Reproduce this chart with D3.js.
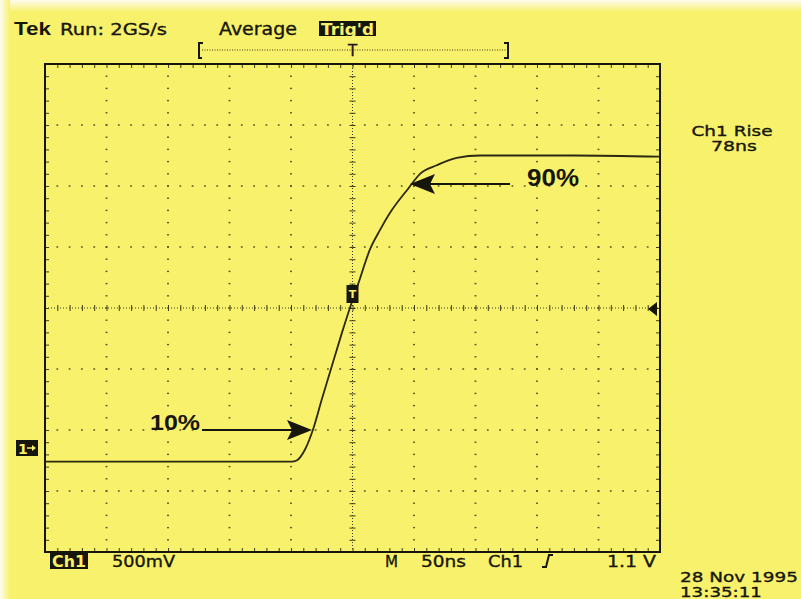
<!DOCTYPE html>
<html><head><meta charset="utf-8">
<script src="https://cdn.jsdelivr.net/npm/d3@7"></script>
<style>body{margin:0;background:#f8f16b;}svg{display:block;}</style>
</head><body>
<script>
// ---- data (time in ns, voltage in V) ----
const timeNs = [-250, -120, -49.4, -45.4, -38.6, -31.9, -25.0, -16.9, -8.8, 0.2, 4.7, 14.2, 22.4, 30.5, 45.4, 54.9, 68.5, 84.7, 103.7, 180, 250];
const voltsV = [-0.11, -0.11, -0.11, -0.10, -0.01, 0.16, 0.40, 0.67, 0.94, 1.22, 1.35, 1.63, 1.79, 1.93, 2.13, 2.25, 2.32, 2.38, 2.40, 2.40, 2.39];
const timeDomain = [-250, 250];      // 50 ns/div, 10 divisions
const voltDomain = [-0.85, 3.15];    // 500 mV/div, 8 divisions
const nsPerDiv = 50, vPerDiv = 0.5, minorPerDiv = 5;
const headerTexts = {tek: "Tek", run: "Run: 2GS/s", avg: "Average", trig: "Trig'd"};
const footerTexts = ["500mV", "M", "50ns", "Ch1", "1.1 V"];
const measureTexts = ["Ch1 Rise", "78ns"];
const dateTexts = ["28 Nov 1995", "13:35:11"];
const arrowLabels = ["10%", "90%"];

const W = 801, H = 599;
const ink = "#17160c", yel = "#f8f16b";
const svg = d3.select("body").append("svg").attr("width", W).attr("height", H);
svg.append("rect").attr("width", W).attr("height", H).attr("fill", yel);
// pale scan edges
const defs = svg.append("defs");
const gT = defs.append("linearGradient").attr("id","gt").attr("x1",0).attr("y1",0).attr("x2",0).attr("y2",1);
gT.append("stop").attr("offset",0).attr("stop-color","#fdfcf0");
gT.append("stop").attr("offset",1).attr("stop-color",yel);
const gL = defs.append("linearGradient").attr("id","gl").attr("x1",0).attr("y1",0).attr("x2",1).attr("y2",0);
gL.append("stop").attr("offset",0).attr("stop-color","#fdfcf0");
gL.append("stop").attr("offset",1).attr("stop-color",yel);
svg.append("rect").attr("x",0).attr("y",0).attr("width",W).attr("height",12).attr("fill","url(#gt)");
svg.append("rect").attr("x",0).attr("y",0).attr("width",10).attr("height",H).attr("fill","url(#gl)");

const x = d3.scaleLinear().domain(timeDomain).range([45, 660]);
const y = d3.scaleLinear().domain(voltDomain).range([552, 64]);

const xMinor = d3.range(timeDomain[0], timeDomain[1] + 0.001, nsPerDiv / minorPerDiv);
const xMajor = d3.range(timeDomain[0], timeDomain[1] + 0.001, nsPerDiv);
const nY = Math.round((voltDomain[1] - voltDomain[0]) / (vPerDiv / minorPerDiv));
const yMinor = d3.range(0, nY + 1).map(i => voltDomain[0] + i * vPerDiv / minorPerDiv);
const yMajor = d3.range(0, 9).map(i => voltDomain[0] + i * vPerDiv);
const tCenter = (timeDomain[0] + timeDomain[1]) / 2, vCenter = (voltDomain[0] + voltDomain[1]) / 2;

const grid = svg.append("g");
// dotted division lines
xMajor.slice(1, -1).filter(t => Math.abs(t - tCenter) > 1e-6).forEach(t => {
  grid.selectAll(null).data(yMinor.slice(1, -1)).enter().append("rect")
    .attr("x", x(t) - 0.9).attr("y", d => y(d) - 0.7).attr("width", 1.8).attr("height", 1.4).attr("fill", "#4f4d26");
});
yMajor.slice(1, -1).filter(v => Math.abs(v - vCenter) > 1e-6).forEach(v => {
  grid.selectAll(null).data(xMinor.slice(1, -1)).enter().append("rect")
    .attr("x", d => x(d) - 0.9).attr("y", y(v) - 0.7).attr("width", 1.8).attr("height", 1.4).attr("fill", "#4f4d26");
});
// centre cross
grid.append("line").attr("x1", x(tCenter)).attr("x2", x(tCenter)).attr("y1", y(voltDomain[0])).attr("y2", y(voltDomain[1]))
  .attr("stroke", "#3e3c1c").attr("stroke-width", 1).attr("stroke-dasharray", "1,2");
grid.append("line").attr("y1", y(vCenter)).attr("y2", y(vCenter)).attr("x1", x(timeDomain[0])).attr("x2", x(timeDomain[1]))
  .attr("stroke", "#3e3c1c").attr("stroke-width", 1).attr("stroke-dasharray", "1,2");
const cx = svg.append("g").attr("transform", `translate(${x(tCenter)},0)`)
  .call(d3.axisRight(y).tickValues(yMinor.slice(1,-1)).tickSize(3).tickFormat(""));
const cx2 = svg.append("g").attr("transform", `translate(${x(tCenter)},0)`)
  .call(d3.axisLeft(y).tickValues(yMinor.slice(1,-1)).tickSize(3).tickFormat(""));
const cy = svg.append("g").attr("transform", `translate(0,${y(vCenter)})`)
  .call(d3.axisBottom(x).tickValues(xMinor.slice(1,-1)).tickSize(3).tickFormat(""));
const cy2 = svg.append("g").attr("transform", `translate(0,${y(vCenter)})`)
  .call(d3.axisTop(x).tickValues(xMinor.slice(1,-1)).tickSize(3).tickFormat(""));
[cx, cx2, cy, cy2].forEach(g => { g.select(".domain").remove(); g.selectAll(".tick line").attr("stroke", "#3e3c1c"); });

// border ticks (inward)
const bt = [
  svg.append("g").attr("transform", `translate(0,${y(voltDomain[1])})`).call(d3.axisBottom(x).tickValues(xMinor).tickSize(4).tickFormat("")),
  svg.append("g").attr("transform", `translate(0,${y(voltDomain[0])})`).call(d3.axisTop(x).tickValues(xMinor).tickSize(4).tickFormat("")),
  svg.append("g").attr("transform", `translate(${x(timeDomain[0])},0)`).call(d3.axisRight(y).tickValues(yMinor).tickSize(4).tickFormat("")),
  svg.append("g").attr("transform", `translate(${x(timeDomain[1])},0)`).call(d3.axisLeft(y).tickValues(yMinor).tickSize(4).tickFormat(""))
];
bt.forEach(g => { g.select(".domain").remove(); g.selectAll(".tick line").attr("stroke", "#3e3c1c"); });
svg.append("rect").attr("x", x(timeDomain[0])).attr("y", y(voltDomain[1]))
  .attr("width", x(timeDomain[1]) - x(timeDomain[0])).attr("height", y(voltDomain[0]) - y(voltDomain[1]))
  .attr("fill", "none").attr("stroke", ink).attr("stroke-width", 2);

// trace
const line = d3.line().x((d, i) => x(timeNs[i])).y(d => y(d)).curve(d3.curveMonotoneX);
svg.append("path").attr("d", line(voltsV)).attr("fill", "none").attr("stroke", "#2a2812").attr("stroke-width", 1.8);

// trigger point marker
svg.append("rect").attr("x", x(tCenter) - 6).attr("y", 285).attr("width", 12).attr("height", 18).attr("fill", ink);
svg.append("text").attr("x", x(tCenter)).attr("y", 298).attr("text-anchor", "middle").attr("fill", yel)
  .attr("font-family", "DejaVu Sans").attr("font-size", 11).attr("font-weight", "bold").text("T");
// trigger level marker on right
svg.append("path").attr("d", "M648,309 L657,302 L657,316 Z").attr("fill", ink);

// arrows
function arrow(x0, x1, yy, tip) {
  svg.append("line").attr("x1", x0).attr("x2", x1).attr("y1", yy).attr("y2", yy).attr("stroke", ink).attr("stroke-width", 2);
  const dir = tip > x1 ? 1 : -1;
  svg.append("path").attr("d", `M${tip},${yy} L${tip - dir * 25},${yy - 10} L${tip - dir * 20},${yy} L${tip - dir * 25},${yy + 10} Z`).attr("fill", ink);
}
arrow(202, 292, 430, 312);
arrow(510, 430, 184, 410);
const bigFont = "Liberation Sans";
svg.append("text").attr("x", 150).attr("y", 430).attr("font-family", bigFont).attr("font-weight", "bold").attr("font-size", 22)
  .attr("textLength", 50).attr("lengthAdjust", "spacingAndGlyphs").attr("fill", ink).text(arrowLabels[0]);
svg.append("text").attr("x", 527).attr("y", 186).attr("font-family", bigFont).attr("font-weight", "bold").attr("font-size", 23)
  .attr("textLength", 52).attr("lengthAdjust", "spacingAndGlyphs").attr("fill", ink).text(arrowLabels[1]);

// texts
const F = "DejaVu Sans";
function txt(s, xx, yy, size, len, opts = {}) {
  const t = svg.append("text").attr("x", xx).attr("y", yy).attr("font-family", opts.family || F).attr("font-size", size)
    .attr("fill", opts.fill || ink).attr("font-weight", opts.weight || "normal").text(s);
  if (!opts.weight) t.attr("stroke", opts.fill || ink).attr("stroke-width", 0.35);
  if (len) t.attr("textLength", len).attr("lengthAdjust", "spacingAndGlyphs");
  if (opts.anchor) t.attr("text-anchor", opts.anchor);
  return t;
}
txt(headerTexts.tek, 14, 35, 19, 37, {weight: "bold", family: "Liberation Sans"});
txt(headerTexts.run, 60, 35, 16, 107);
txt(headerTexts.avg, 219, 35, 17, 78);
svg.append("rect").attr("x", 319).attr("y", 21).attr("width", 57).attr("height", 15).attr("fill", ink);
txt(headerTexts.trig, 321, 35, 15, 53, {fill: yel, weight: "bold"});
// record bracket
svg.append("path").attr("d", "M203,43 H199 V58 H202").attr("fill", "none").attr("stroke", ink).attr("stroke-width", 2);
svg.append("path").attr("d", "M504,43 H508 V58 H504").attr("fill", "none").attr("stroke", ink).attr("stroke-width", 2);
svg.append("line").attr("x1", 202).attr("x2", 506).attr("y1", 50).attr("y2", 50).attr("stroke", "#3e3c1c").attr("stroke-width", 1.2).attr("stroke-dasharray", "1,1.5");
txt("T", x(tCenter), 56, 15, null, {anchor: "middle"});

// right measurement
txt(measureTexts[0], 732, 136, 14, 81, {anchor: "middle"});
txt(measureTexts[1], 734, 151, 14, 46, {anchor: "middle"});

// footer
svg.append("rect").attr("x", 50).attr("y", 553).attr("width", 38).attr("height", 16).attr("fill", ink);
txt("Ch1", 52, 567, 15, 34, {fill: yel, weight: "bold"});
txt(footerTexts[0], 112, 567, 16, 63);
txt(footerTexts[1], 385, 567, 16, 13);
txt(footerTexts[2], 421, 567, 16, 45);
txt(footerTexts[3], 488, 567, 16, 35);
svg.append("path").attr("d", "M542,567 H546 L549,555 H553").attr("fill", "none").attr("stroke", ink).attr("stroke-width", 2);
txt(footerTexts[4], 607, 567, 16, 49);
txt(dateTexts[0], 680, 582, 14, 118);
txt(dateTexts[1], 680, 597, 14, 82);

// channel ground marker
svg.append("rect").attr("x", 16).attr("y", 440).attr("width", 22).attr("height", 16).attr("fill", ink);
txt("1", 18, 454, 14, null, {fill: yel, weight: "bold"});
svg.append("line").attr("x1", 27).attr("x2", 34).attr("y1", 448).attr("y2", 448).attr("stroke", yel).attr("stroke-width", 1.5);
svg.append("path").attr("d", "M36,448 L32,445 L32,451 Z").attr("fill", yel);
</script>
</body></html>
